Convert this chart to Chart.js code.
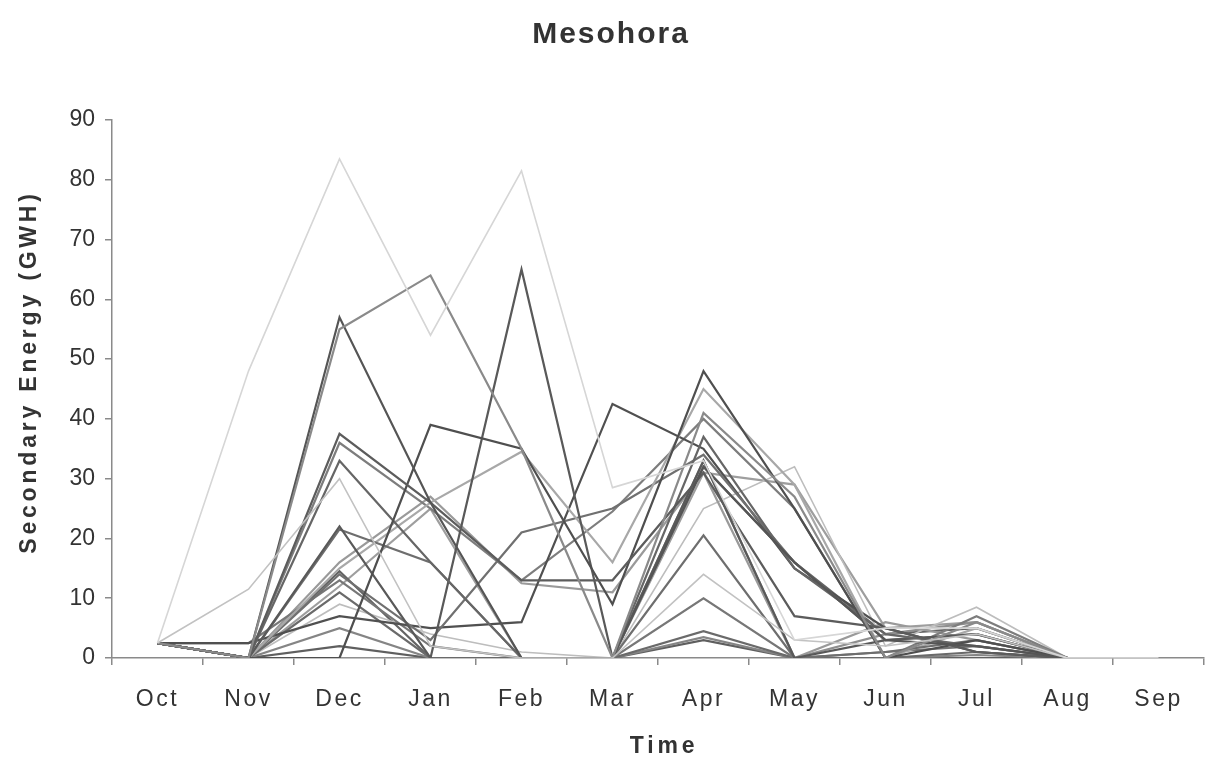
<!DOCTYPE html>
<html>
<head>
<meta charset="utf-8">
<script src="https://cdn.jsdelivr.net/npm/chart.js@4/dist/chart.umd.min.js"></script>
<style>
  html, body { margin: 0; padding: 0; background: #fff; }
  #wrap { width: 1215px; height: 762px; }
</style>
</head>
<body>
<div id="wrap"><canvas id="c" width="1215" height="762"></canvas></div>
<script>
// Months of the hydrological year
const months = ['Oct', 'Nov', 'Dec', 'Jan', 'Feb', 'Mar', 'Apr', 'May', 'Jun', 'Jul', 'Aug', 'Sep'];
const yTicks = [0, 10, 20, 30, 40, 50, 60, 70, 80, 90];

// Secondary energy per simulated year (GWH), Oct..Sep
const y01 = [2.5, 48, 83.5, 54, 81.5, 28.5, 33, 3, 5, 5, 0, 0];
const y02 = [2.5, 11.5, 30, 2, 0, 0, 14, 3, 2, 4, 0, 0];
const y03 = [2.5, 0, 55, 64, 35, 0, 41, 27, 0, 6, 0, 0];
const y04 = [2.5, 0, 57, 26, 0, 0, 32, 16, 3, 2, 0, 0];
const y05 = [2.5, 0, 37.5, 26, 13, 13, 31, 7, 5, 1, 0, 0];
const y06 = [2.5, 0, 0, 39, 35, 9, 48, 25, 0, 3, 0, 0];
const y07 = [2.5, 0, 33, 16, 0, 0, 37, 15, 4, 2, 0, 0];
const y08 = [2.5, 0, 22, 0, 65, 0, 33, 0, 3, 4, 0, 0];
const y09 = [2.5, 0, 21.5, 16, 0, 0, 20.5, 0, 1, 3, 0, 0];
const y10 = [2.5, 0, 15, 26, 34.5, 16, 45, 29, 0, 5, 0, 0];
const y11 = [2.5, 0, 14, 3, 21, 25, 34, 16, 3, 4, 0, 0];
const y12 = [2.5, 2.5, 7, 5, 6, 42.5, 35, 15, 5, 1, 0, 0];
const y13 = [2.5, 2.5, 13, 2, 0, 0, 10, 0, 1, 2, 0, 0];
const y14 = [2.5, 0, 11, 0, 0, 0, 4.5, 0, 0, 1, 0, 0];
const y15 = [2.5, 0, 5, 0, 0, 0, 3.5, 0, 0, 0.5, 0, 0];
const y16 = [2.5, 0, 2, 0, 0, 0, 3, 0, 0, 0, 0, 0];
const y17 = [2.5, 0, 36, 25, 13, 24.5, 40, 25, 0, 7, 0, 0];
const y18 = [2.5, 0, 16, 27, 12.5, 11, 31, 0, 6, 3, 0, 0];
const y19 = [2.5, 0, 9, 4, 1, 0, 25, 32, 2, 8.5, 0, 0];
const y20 = [2.5, 0, 0, 0, 0, 0, 33, 0, 4, 6, 0, 0];
const y21 = [2.5, 0, 14.5, 0, 0, 0, 32, 16, 4, 5, 0, 0];
const y22 = [2.5, 0, 12, 25, 0, 0, 31, 29, 5, 6, 0, 0];

const seriesList = [y01, y02, y03, y04, y05, y06, y07, y08, y09, y10, y11,
                    y12, y13, y14, y15, y16, y17, y18, y19, y20, y21, y22];
const shades = ['#d6d6d6', '#c2c2c2', '#8a8a8a', '#555555', '#5c5c5c', '#4f4f4f',
                '#666666', '#595959', '#6e6e6e', '#a8a8a8', '#707070', '#505050',
                '#777777', '#6a6a6a', '#858585', '#5f5f5f', '#7d7d7d', '#9a9a9a',
                '#bdbdbd', '#8f8f8f', '#646464', '#9e9e9e'];

const datasets = seriesList.map((d, i) => ({
  label: 'Year ' + (i + 1),
  data: d,
  borderColor: shades[i],
  borderWidth: (i === 0 || i === 1 || i === 18) ? 1.6 : 2.2,
  pointRadius: 0,
  tension: 0,
  fill: false
}));

const axisColor = '#8a8a8a';

// Letter spacing and small nudges for the text blocks
const textStyle = {
  title:   { sp: '2px',   dx: 9, dy: 0 },
  xLabels: { sp: '2.5px', dx: 0, dy: 0 },
  xTitle:  { sp: '3.8px', dx: 6, dy: 0 },
  yLabels: { sp: '0px',   dx: 0, dy: 0 },
  yTitle:  { sp: '3.8px', dx: 0, dy: -17 }
};

function styled(ctx, st, fn) {
  ctx.save();
  ctx.letterSpacing = st.sp;
  ctx.translate(st.dx, st.dy);
  fn();
  ctx.restore();
}

const textStylePlugin = {
  id: 'textStyle',
  beforeDraw(chart) {
    const ctx = chart.ctx;
    ['x', 'y'].forEach((id) => {
      const s = chart.scales[id];
      if (s && !s.__styled) {
        const dl = s.drawLabels.bind(s);
        const dt = s.drawTitle.bind(s);
        s.drawLabels = (a) => styled(ctx, textStyle[id + 'Labels'], () => dl(a));
        s.drawTitle = (a) => styled(ctx, textStyle[id + 'Title'], () => dt(a));
        s.__styled = true;
      }
    });
    const tb = chart.titleBlock;
    if (tb && !tb.__styled) {
      const d = tb.draw.bind(tb);
      tb.draw = (...args) => styled(ctx, textStyle.title, () => d(...args));
      tb.__styled = true;
    }
  }
};

new Chart(document.getElementById('c'), {
  type: 'line',
  data: { labels: months, datasets },
  plugins: [textStylePlugin],
  options: {
    responsive: false,
    animation: false,
    layout: { padding: { left: 0, right: 11, top: 0, bottom: 0 } },
    plugins: {
      legend: { display: false },
      tooltip: { enabled: false },
      title: {
        display: true,
        text: 'Mesohora',
        color: '#333',
        font: { family: 'Liberation Sans', size: 30, weight: 'bold' },
        padding: { top: 17, bottom: 67 }
      }
    },
    scales: {
      x: {
        type: 'category',
        offset: true,
        border: { display: true, color: axisColor, width: 1.5 },
        grid: { display: true, offset: true, drawOnChartArea: false, tickLength: 7, color: axisColor, lineWidth: 1.5 },
        ticks: { color: '#333', font: { family: 'Liberation Sans', size: 23 }, padding: 21, maxRotation: 0 },
        title: {
          display: true, text: 'Time', color: '#333',
          font: { family: 'Liberation Sans', size: 23, weight: 'bold' },
          padding: { top: 4, bottom: 2 }
        },
        afterFit: (s) => { s.height = 104; }
      },
      y: {
        min: 0, max: 90,
        afterBuildTicks: (s) => { s.ticks = yTicks.map(v => ({ value: v })); },
        border: { display: true, color: axisColor, width: 1.5 },
        grid: { display: true, drawOnChartArea: false, tickLength: 7, color: axisColor, lineWidth: 1.5 },
        ticks: { color: '#333', font: { family: 'Liberation Sans', size: 23 }, padding: 10 },
        title: {
          display: true, text: 'Secondary Energy (GWH)', color: '#333',
          font: { family: 'Liberation Sans', size: 23, weight: 'bold' },
          padding: { top: 16, bottom: 4 }
        },
        afterFit: (s) => { s.width = 112; }
      }
    }
  }
});
</script>
</body>
</html>
